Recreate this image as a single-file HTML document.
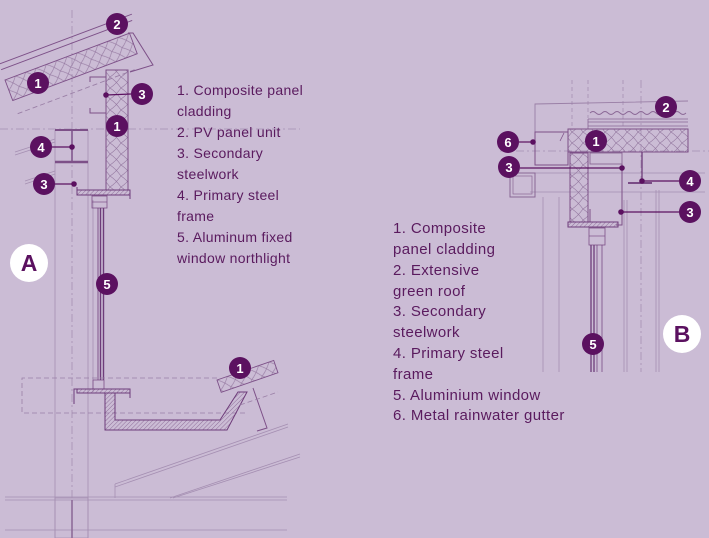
<!DOCTYPE html>
<html><head><meta charset="utf-8"><style>
html,body{margin:0;padding:0;background:#cbbcd5;}
svg{display:block;}
.t{font-family:"Liberation Sans",sans-serif;font-size:14px;fill:#5a1a5e;letter-spacing:0.3px;}
.tb{font-family:"Liberation Sans",sans-serif;font-size:15px;fill:#5a1a5e;letter-spacing:0.4px;}
.n{font-family:"Liberation Sans",sans-serif;font-size:13px;font-weight:bold;fill:#fff;text-anchor:middle;}
.L{font-family:"Liberation Sans",sans-serif;font-size:23px;font-weight:bold;fill:#5b1160;text-anchor:middle;}
</style></head><body>
<svg width="709" height="538" viewBox="0 0 709 538" xmlns="http://www.w3.org/2000/svg">
<defs>
<pattern id="ins" width="11" height="11" patternUnits="userSpaceOnUse">
<path d="M0,0 Q5.5,3.5 11,11 M11,0 Q5.5,7.5 0,11" stroke="#9478a0" stroke-width="0.6" fill="none"/>
</pattern>
<pattern id="hat" width="3" height="3" patternUnits="userSpaceOnUse" patternTransform="rotate(45)">
<line x1="0" y1="0" x2="0" y2="3" stroke="#8a6795" stroke-width="0.9"/>
</pattern>
</defs>
<rect width="709" height="538" fill="#cbbcd5"/>

<!-- ============ PANEL A ============ -->
<g fill="none" stroke="#a58fb2" stroke-width="0.8">
<line x1="55" y1="130" x2="55" y2="538"/>
<line x1="88" y1="130" x2="88" y2="538"/>
<line x1="93" y1="200" x2="93" y2="392"/>
<line x1="0" y1="129" x2="300" y2="129" stroke-dasharray="8,3,2,3"/>
<line x1="72" y1="10" x2="72" y2="538" stroke-dasharray="8,3,2,3"/>
<line x1="15" y1="152" x2="55" y2="139"/>
<line x1="15" y1="155" x2="55" y2="142"/>
<line x1="25" y1="181" x2="55" y2="171"/>
<line x1="25" y1="184" x2="55" y2="174"/>
</g>

<!-- roof panel A -->
<g transform="translate(5,80) rotate(-20.6)" stroke="#7d5088" stroke-width="0.9">
<rect x="0" y="0" width="133" height="22" fill="url(#ins)"/>
<line x1="0" y1="-17" x2="142" y2="-17"/>
<line x1="0" y1="-11" x2="140" y2="-11"/>
<line x1="0" y1="36" x2="128" y2="36" stroke-dasharray="5,3" stroke="#9a7fa6"/>
</g>
<polyline points="128,33 133,33 153,65 130,72" fill="none" stroke="#7d5088" stroke-width="1"/>

<!-- wall panel A -->
<rect x="106" y="70" width="22" height="120" fill="url(#ins)" stroke="#7d5088" stroke-width="1"/>
<polyline points="90,82 90,77 106,77" fill="none" stroke="#7d5088" stroke-width="1"/>
<polyline points="90,108 90,113 106,113" fill="none" stroke="#7d5088" stroke-width="1"/>
<g stroke="#7d5088" fill="none">
<line x1="55" y1="130" x2="88" y2="130" stroke-width="2"/>
<line x1="72" y1="130" x2="72" y2="162" stroke-width="1.5"/>
<line x1="55" y1="162" x2="88" y2="162" stroke-width="2.5"/>
</g>
<rect x="77" y="190" width="53" height="5" fill="url(#hat)" stroke="#6e3c7a" stroke-width="1"/>
<polyline points="77,190 77,187" stroke="#6e3c7a" fill="none"/>
<polyline points="130,195 130,199" stroke="#6e3c7a" fill="none"/>
<rect x="92" y="196" width="15" height="12" fill="none" stroke="#7d5088" stroke-width="0.8"/>
<line x1="92" y1="202" x2="107" y2="202" stroke="#7d5088" stroke-width="0.7"/>
<g stroke="#6e3c7a" fill="none">
<line x1="98" y1="208" x2="98" y2="380" stroke-width="0.8"/>
<line x1="100.5" y1="208" x2="100.5" y2="380" stroke-width="1.4"/>
<line x1="103.5" y1="208" x2="103.5" y2="380" stroke-width="1.4"/>
</g>
<rect x="93" y="380" width="11" height="9" fill="none" stroke="#7d5088" stroke-width="0.8"/>
<polyline points="217,378 22,378 22,413 245,413" fill="none" stroke="#9a7fa6" stroke-width="0.8" stroke-dasharray="5,3"/>
<rect x="77" y="389" width="53" height="4" fill="url(#hat)" stroke="#6e3c7a" stroke-width="1"/>
<polyline points="77,389 74,389 74,404" stroke="#6e3c7a" fill="none"/>
<polyline points="130,393 130,398" stroke="#6e3c7a" fill="none"/>
<path d="M105,393 L105,430 L227,430 L247,392 L238,392 L220,420 L115,420 L115,393 Z" fill="url(#hat)" stroke="#6e3c7a" stroke-width="1"/>
<g transform="translate(217,380) rotate(-19)" stroke="#7d5088" stroke-width="0.9">
<rect x="0" y="0" width="60" height="13" fill="url(#ins)"/>
</g>
<polyline points="253,388 267,428 257,431" fill="none" stroke="#7d5088" stroke-width="1"/>
<line x1="240" y1="405" x2="278" y2="392" stroke="#9a7fa6" stroke-dasharray="5,3" stroke-width="0.8"/>
<g stroke="#a58fb2" stroke-width="0.8" fill="none">
<line x1="115" y1="484" x2="288" y2="424"/>
<line x1="115" y1="487" x2="288" y2="427"/>
<line x1="170" y1="498" x2="300" y2="454"/>
<line x1="173" y1="498" x2="300" y2="457"/>
<line x1="115" y1="484" x2="115" y2="498"/>
<line x1="5" y1="497" x2="287" y2="497"/>
<line x1="5" y1="500" x2="287" y2="500"/>
<line x1="5" y1="530" x2="287" y2="530"/>
</g>
<rect x="55" y="498" width="33" height="40" fill="none" stroke="#a58fb2" stroke-width="0.8"/>
<line x1="72" y1="500" x2="72" y2="538" stroke="#8a6795" stroke-width="1.5"/>

<g stroke="#5b1160" stroke-width="1.2" fill="#5b1160">
<line x1="106" y1="95" x2="131" y2="94"/><circle cx="106" cy="95" r="2.2"/>
<line x1="52" y1="147" x2="72" y2="147"/><circle cx="72" cy="147" r="2.2"/>
<line x1="55" y1="184" x2="74" y2="184"/><circle cx="74" cy="184" r="2.2"/>
</g>
<g fill="#5b1160">
<circle cx="117" cy="24" r="11"/>
<circle cx="38" cy="83" r="11"/>
<circle cx="142" cy="94" r="11"/>
<circle cx="117" cy="126" r="11"/>
<circle cx="41" cy="147" r="11"/>
<circle cx="44" cy="184" r="11"/>
<circle cx="107" cy="284" r="11"/>
<circle cx="240" cy="368" r="11"/>
</g>
<text class="n" x="117" y="29">2</text>
<text class="n" x="38" y="88">1</text>
<text class="n" x="142" y="99">3</text>
<text class="n" x="117" y="131">1</text>
<text class="n" x="41" y="152">4</text>
<text class="n" x="44" y="189">3</text>
<text class="n" x="107" y="289">5</text>
<text class="n" x="240" y="373">1</text>
<circle cx="29" cy="263" r="19" fill="#fff"/>
<text class="L" x="29" y="271">A</text>

<text class="t" x="177" y="95">1. Composite panel</text>
<text class="t" x="177" y="116">cladding</text>
<text class="t" x="177" y="137">2. PV panel unit</text>
<text class="t" x="177" y="158">3. Secondary</text>
<text class="t" x="177" y="179">steelwork</text>
<text class="t" x="177" y="200">4. Primary steel</text>
<text class="t" x="177" y="221">frame</text>
<text class="t" x="177" y="242">5. Aluminum fixed</text>
<text class="t" x="177" y="263">window northlight</text>

<!-- ============ PANEL B ============ -->
<g fill="none" stroke="#a58fb2" stroke-width="0.8">
<line x1="572" y1="80" x2="572" y2="130" stroke-dasharray="4,3"/>
<line x1="588" y1="80" x2="588" y2="118" stroke-dasharray="4,3"/>
<line x1="623" y1="80" x2="623" y2="128" stroke-dasharray="4,3"/>
<line x1="641" y1="80" x2="641" y2="372" stroke-dasharray="8,3,2,3"/>
<line x1="500" y1="151" x2="709" y2="151" stroke-dasharray="8,3,2,3"/>
<line x1="500" y1="173" x2="705" y2="173"/>
<line x1="530" y1="192" x2="705" y2="192"/>
<line x1="543" y1="197" x2="543" y2="372"/>
<line x1="559" y1="197" x2="559" y2="372"/>
<line x1="624" y1="200" x2="624" y2="372"/>
<line x1="627" y1="200" x2="627" y2="372"/>
<line x1="656" y1="190" x2="656" y2="372"/>
<line x1="659" y1="190" x2="659" y2="372"/>
</g>
<polyline points="535,132 535,104 688,101" fill="none" stroke="#9a7fa6" stroke-width="0.9"/>
<path d="M590,113 q3,-3 6,0 t6,0 t6,0 t6,0 t6,0 t6,0 t6,0 t6,0 t6,0 t6,0 t6,0 t6,0 t6,0 t6,0 t6,0 t6,0" fill="none" stroke="#8a6795" stroke-width="0.9"/>
<g stroke="#8a6795" stroke-width="0.8">
<line x1="588" y1="119" x2="688" y2="119"/>
<line x1="588" y1="122" x2="688" y2="122"/>
<line x1="588" y1="126" x2="688" y2="126"/>
<line x1="588" y1="119" x2="588" y2="129"/>
</g>
<rect x="568" y="129" width="120" height="23" fill="url(#ins)" stroke="#7d5088" stroke-width="1"/>
<rect x="535" y="132" width="33" height="33" fill="none" stroke="#7d5088" stroke-width="1"/>
<line x1="560" y1="141" x2="564" y2="133" stroke="#7d5088" stroke-width="0.8"/>
<rect x="510" y="173" width="25" height="24" fill="none" stroke="#8a6795" stroke-width="1"/>
<rect x="513" y="176" width="19" height="18" fill="none" stroke="#8a6795" stroke-width="0.7"/>
<rect x="570" y="153" width="18" height="69" fill="url(#ins)" stroke="#7d5088" stroke-width="1"/>
<rect x="590" y="153" width="32" height="11" fill="none" stroke="#8a6795" stroke-width="0.9"/>
<polyline points="622,164 622,225 616,225" fill="none" stroke="#7d5088" stroke-width="1"/>
<polyline points="590,209 590,222" fill="none" stroke="#7d5088" stroke-width="1"/>
<rect x="568" y="222" width="50" height="5" fill="url(#hat)" stroke="#6e3c7a" stroke-width="1"/>
<line x1="642" y1="152" x2="642" y2="183" stroke="#6e3c7a" stroke-width="1.3"/>
<line x1="628" y1="183" x2="652" y2="183" stroke="#6e3c7a" stroke-width="1.8"/>
<rect x="589" y="228" width="16" height="17" fill="none" stroke="#7d5088" stroke-width="0.8"/>
<line x1="589" y1="236" x2="605" y2="236" stroke="#7d5088" stroke-width="0.7"/>
<g stroke="#6e3c7a" fill="none">
<line x1="591" y1="245" x2="591" y2="372" stroke-width="1.3"/>
<line x1="594" y1="245" x2="594" y2="372" stroke-width="1.3"/>
<line x1="597" y1="245" x2="597" y2="372" stroke-width="0.7"/>
<line x1="602" y1="245" x2="602" y2="372" stroke-width="0.7"/>
</g>
<g stroke="#5b1160" stroke-width="1.2" fill="#5b1160">
<line x1="519" y1="142" x2="533" y2="142"/><circle cx="533" cy="142" r="2.2"/>
<line x1="520" y1="168" x2="622" y2="168"/><circle cx="622" cy="168" r="2.2"/>
<line x1="642" y1="181" x2="679" y2="181"/><circle cx="642" cy="181" r="2.2"/>
<line x1="622" y1="212" x2="679" y2="212"/><circle cx="621" cy="212" r="2.2"/>
</g>
<g fill="#5b1160">
<circle cx="666" cy="107" r="11"/>
<circle cx="508" cy="142" r="11"/>
<circle cx="596" cy="141" r="11"/>
<circle cx="509" cy="167" r="11"/>
<circle cx="690" cy="181" r="11"/>
<circle cx="690" cy="212" r="11"/>
<circle cx="593" cy="344" r="11"/>
</g>
<text class="n" x="666" y="112">2</text>
<text class="n" x="508" y="147">6</text>
<text class="n" x="596" y="146">1</text>
<text class="n" x="509" y="172">3</text>
<text class="n" x="690" y="186">4</text>
<text class="n" x="690" y="217">3</text>
<text class="n" x="593" y="349">5</text>
<circle cx="682" cy="334" r="19" fill="#fff"/>
<text class="L" x="682" y="342">B</text>

<text class="tb" x="393" y="233">1. Composite</text>
<text class="tb" x="393" y="254">panel cladding</text>
<text class="tb" x="393" y="275">2. Extensive</text>
<text class="tb" x="393" y="296">green roof</text>
<text class="tb" x="393" y="316">3. Secondary</text>
<text class="tb" x="393" y="337">steelwork</text>
<text class="tb" x="393" y="358">4. Primary steel</text>
<text class="tb" x="393" y="379">frame</text>
<text class="tb" x="393" y="400">5. Aluminium window</text>
<text class="tb" x="393" y="420">6. Metal rainwater gutter</text>
</svg>
</body></html>
